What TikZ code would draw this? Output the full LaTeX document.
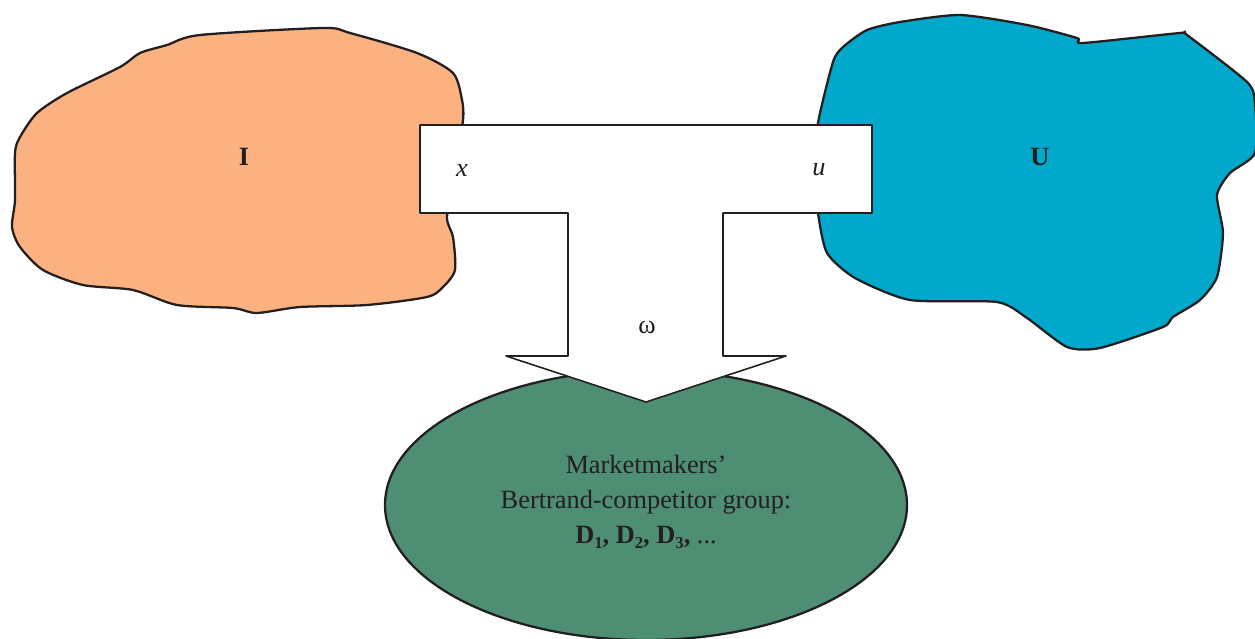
\documentclass[tikz,border=0pt]{standalone}
\usepackage{fontspec}
\setmainfont{Liberation Serif}
\usepackage{tikz}
\usetikzlibrary{positioning}
\definecolor{lineBlack}{RGB}{35,31,32}
\definecolor{investorOrange}{RGB}{251,178,128}
\definecolor{userBlue}{RGB}{0,168,204}
\definecolor{dealerGreen}{RGB}{78,143,115}
\newcommand{\lowsub}[1]{\raisebox{-0.45ex}{\fontsize{9.5}{9.5}\selectfont #1}}

\begin{document}
\begin{tikzpicture}[x=0.02cm, y=-0.02cm, line join=round]
    \useasboundingbox (0,0) rectangle (1255,639);
    \tikzset{blob/.style={draw=lineBlack, line width=1.3pt},
             label/.style={font=\fontsize{15}{19.8}\selectfont, text=lineBlack, inner sep=0pt}}

    % Left region
    \draw[blob, fill=investorOrange] plot[smooth cycle, tension=0.45] coordinates {
        (323,28) (350,33) (417,53) (453,73) (462,100) (463,120) (455,170) (447,217)
        (453,237) (455,270) (443,287) (427,297) (367,305) (300,307) (257,313)
        (233,308) (177,305) (133,290) (83,285) (43,270) (20,247) (12,227)
        (15,200) (15,153) (20,137) (37,113) (67,93) (120,67) (140,53) (167,45) (200,35)};

    % Right region
    \draw[blob, fill=userBlue] plot[smooth cycle, tension=0.4] coordinates {
        (960,15) (1027,25) (1077,38) (1083,43) (1180,33) (1187,35) (1247,82)
        (1255,103) (1255,153) (1230,173) (1217,195) (1223,233) (1217,277)
        (1200,300) (1173,317) (1163,327) (1100,348) (1067,347) (1027,318)
        (997,302) (910,300) (855,278) (827,253) (818,213) (815,170) (818,123)
        (833,62) (843,47) (867,30) (900,22)};

    % Bottom group
    \draw[blob, fill=dealerGreen] (646,505) ellipse [x radius=261, y radius=135];

    % T-shaped arrow
    \draw[draw=lineBlack, line width=0.9pt, fill=white]
        (420,125) -- (872,125) -- (872,213) -- (723,213) -- (723,356) -- (786,356)
        -- (646,402) -- (506,356) -- (568,356) -- (568,213) -- (420,213) -- cycle;

    % Labels
    \node[label] (investors) at (244,157) {\textbf{I}};
    \node[label] (users) at (1040,157) {\textbf{U}};
    \node[label] (inflow) at (462,170) {\textit{x}};
    \node[label] (outflow) at (819,170) {\textit{u}};
    \node[label] (bundle) at (647,327) {ω};
    \node[label, align=center] (dealers) at (646,502)
        {Marketmakers’\\Bertrand-competitor group:\\
         \textbf{D\lowsub{1}, D\lowsub{2}, D\lowsub{3},} ...};
\end{tikzpicture}
\end{document}
